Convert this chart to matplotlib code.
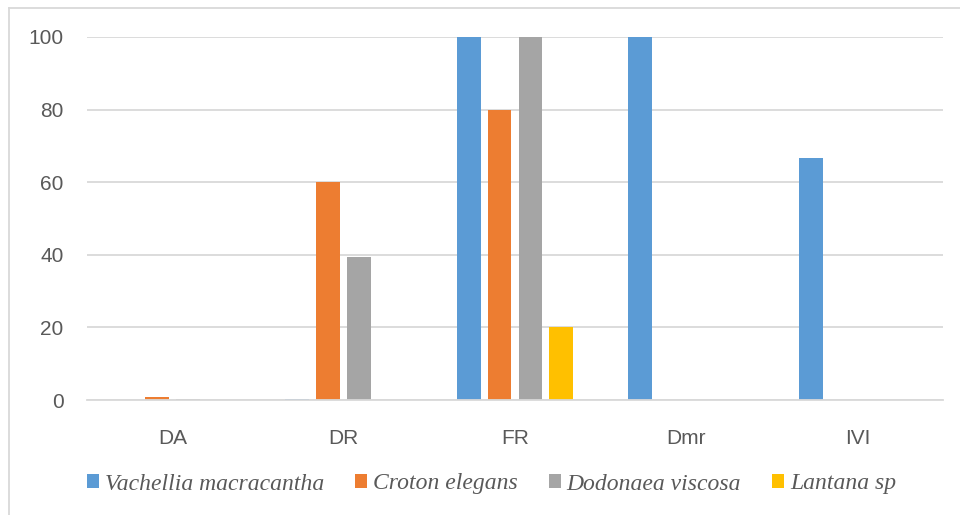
import matplotlib.pyplot as plt
import numpy as np
from matplotlib.lines import Line2D

# Datos del gráfico
categorias = ['DA', 'DR', 'FR', 'Dmr', 'IVI']
especies = ['Vachellia macracantha', 'Croton elegans', 'Dodonaea viscosa', 'Lantana sp']
vachellia = [0, 0.4, 100, 100, 66.7]
croton = [0.8, 60, 80, 0, 0]
dodonaea = [0.4, 39.3, 100, 0, 0]
lantana = [0, 0, 20, 0, 0]
colores = ['#5b9bd5', '#ed7d31', '#a5a5a5', '#ffc000']

series = [vachellia, croton, dodonaea, lantana]

fig = plt.figure(figsize=(9.6, 5.15), dpi=100)
ax = fig.add_axes([87 / 960, 1 - 400 / 515, 856 / 960, 363 / 515])

x = np.arange(len(categorias))
paso = 0.181
ancho = 0.14
for i, (vals, nombre, color) in enumerate(zip(series, especies, colores)):
    ax.bar(x + (i - 1.5) * paso, vals, ancho, color=color, label=nombre, zorder=3)

ax.set_xlim(-0.5, len(categorias) - 0.5)
ax.set_ylim(0, 100)
ax.set_yticks(range(0, 101, 20))
ax.set_xticks(x)
ax.set_xticklabels(categorias)
ax.grid(axis='y', color='#d9d9d9', linewidth=1.3, zorder=0)
for lado in ['top', 'right', 'left']:
    ax.spines[lado].set_visible(False)
ax.spines['bottom'].set_color('#d9d9d9')
ax.spines['bottom'].set_linewidth(1.3)
ax.spines['bottom'].set_zorder(4)
ax.tick_params(axis='both', length=0, labelsize=15, labelcolor='#595959')
ax.tick_params(axis='y', pad=17)
ax.tick_params(axis='x', pad=21)
for t in ax.get_xticklabels() + ax.get_yticklabels():
    t.set_fontfamily('Liberation Sans')

# Leyenda en la parte inferior
fig.legend(loc='center', bbox_to_anchor=(491.5 / 960, 1 - 484 / 515), ncol=4, frameon=False,
           prop={'family': 'Liberation Serif', 'style': 'italic', 'size': 17},
           labelcolor='#595959', handlelength=0.52, handleheight=0.52,
           handletextpad=0.25, columnspacing=1.3)

# Borde del área del gráfico
fig.add_artist(Line2D([9 / 960, 1], [1 - 8 / 515, 1 - 8 / 515], color='#d9d9d9', linewidth=1.3))
fig.add_artist(Line2D([9 / 960, 9 / 960], [0, 1 - 8 / 515], color='#d9d9d9', linewidth=1.3))

fig.savefig('out.png', dpi=100)
